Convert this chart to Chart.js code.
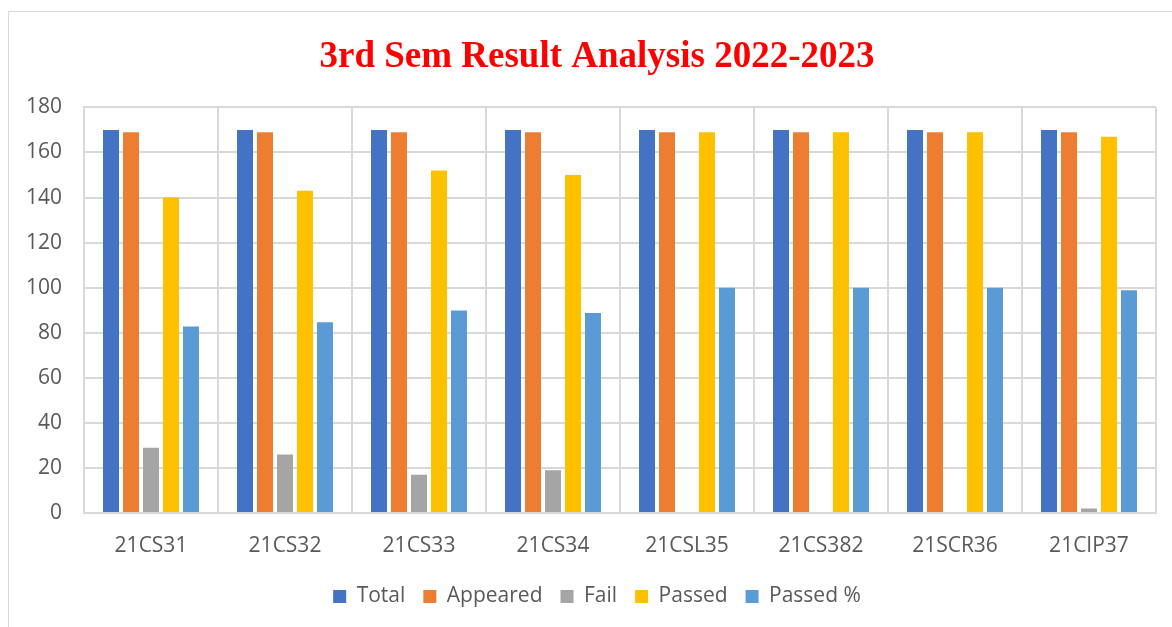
<!DOCTYPE html>
<html>
<head>
<meta charset="utf-8">
<script src="https://cdn.jsdelivr.net/npm/chart.js@4/dist/chart.umd.min.js"></script>
<style>
    html, body { margin: 0; padding: 0; overflow: hidden; background: #fff; }
    #frame { position: absolute; left: 8px; top: 11px; width: 1300px; height: 700px; border: 1px solid #d9d9d9; }
    #wrap { position: absolute; left: 0; top: 0; width: 1194px; height: 627px; }
</style>
</head>
<body>
<div id="frame"></div>
<div id="wrap"><canvas id="myChart"></canvas></div>
<script>
const subjects = ["21CS31", "21CS32", "21CS33", "21CS34", "21CSL35", "21CS382", "21SCR36", "21CIP37"];
const total = [170, 170, 170, 170, 170, 170, 170, 170];
const appeared = [169, 169, 169, 169, 169, 169, 169, 169];
const fail = [29, 26, 17, 19, 0, 0, 0, 2];
const passed = [140, 143, 152, 150, 169, 169, 169, 167];
const passedPct = [82.8, 84.6, 89.9, 88.8, 100, 100, 100, 98.8];
const yTicks = [0, 20, 40, 60, 80, 100, 120, 140, 160, 180];

const gridColor = "#d9d9d9";
const textColor = "#595959";
const tickFont = { family: "'Open Sans', sans-serif", size: 21 };

function series(label, data, color) {
    return {
        label: label,
        data: data,
        backgroundColor: color,
        borderWidth: 0,
        categoryPercentage: 0.746,
        barPercentage: 0.8
    };
}

let ctx = document.querySelector('#myChart').getContext('2d');
let myChart = new Chart(ctx, {
    type: 'bar',
    data: {
        labels: subjects,
        datasets: [
            series('Total', total, '#4472C4'),
            series('Appeared', appeared, '#ED7D31'),
            series('Fail', fail, '#A5A5A5'),
            series('Passed', passed, '#FFC000'),
            series('Passed %', passedPct, '#5B9BD5')
        ]
    },
    options: {
        responsive: true,
        maintainAspectRatio: false,
        animation: false,
        layout: { padding: { left: 0, right: 0, top: 0, bottom: 10 } },
        plugins: {
            tooltip: { enabled: false },
            title: {
                display: true,
                text: '3rd Sem Result Analysis 2022-2023',
                color: '#FF0000',
                font: { family: "'Liberation Serif', 'Times New Roman', serif", size: 37, weight: 'bold' },
                padding: { top: 35, bottom: 28 }
            },
            legend: {
                position: 'bottom',
                labels: {
                    color: textColor,
                    font: tickFont,
                    boxWidth: 13,
                    boxHeight: 13,
                    padding: 18
                }
            }
        },
        scales: {
            x: {
                grid: { color: gridColor, lineWidth: 2, offset: true, drawTicks: false },
                border: { color: gridColor, width: 2 },
                ticks: { color: textColor, font: tickFont, padding: 20 },
                afterFit: (scale) => { scale.height = 55; }
            },
            y: {
                min: 0,
                max: 180,
                afterBuildTicks: (scale) => { scale.ticks = yTicks.map(v => ({ value: v })); },
                grid: { color: gridColor, lineWidth: 2, drawTicks: false },
                border: { color: gridColor, width: 2 },
                ticks: { color: textColor, font: tickFont, padding: 22 },
                afterFit: (scale) => { scale.width = 84; }
            },
            // empty axis on the right, keeps the plot off the right edge like the original
            yRight: {
                type: 'linear',
                position: 'right',
                grid: { display: false },
                border: { display: false },
                ticks: { display: false },
                afterFit: (scale) => { scale.width = 38; }
            }
        }
    }
});
</script>
</body>
</html>
